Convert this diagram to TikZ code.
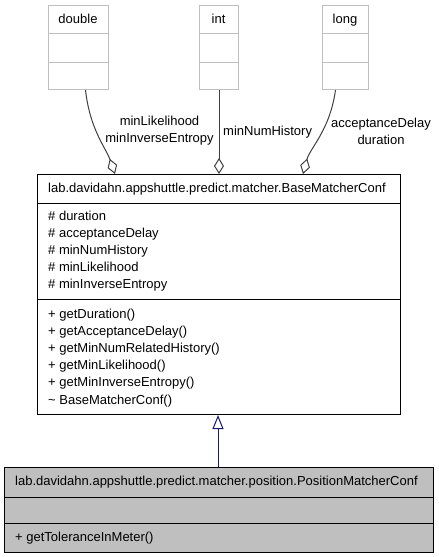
\documentclass[tikz,border=0pt]{standalone}
\usepackage{fontspec}
\setmainfont{Liberation Sans}
\usetikzlibrary{arrows.meta,calc}
\definecolor{boxgray}{RGB}{191,191,191}
\definecolor{edgegray}{RGB}{64,64,64}
\definecolor{navyblue}{RGB}{25,25,112}
\begin{document}
\begin{tikzpicture}[x=1pt,y=-1pt,
  txt/.style={font=\fontsize{13}{17}\selectfont, inner sep=0pt},
  mem/.style={txt, anchor=base west},
  typebox/.style={draw=boxgray, line width=1pt, anchor=north west, minimum width=#1, minimum height=84pt, inner sep=0pt},
  classbox/.style={draw=black, line width=1pt, anchor=north west, inner sep=0pt},
  agg/.style={draw=edgegray, line width=1pt, -{Diamond[open,length=16pt,width=10pt]}},
  inh/.style={draw=navyblue, line width=1pt, -{Triangle[open,length=14pt,width=11pt]}}
]
\useasboundingbox (0,0) rectangle (439,557);

% type boxes
\node[typebox=60pt] (dbl) at (48,5) {};
\node[txt, anchor=base] (dblname) at (78,23) {double};
\draw[boxgray, line width=1pt] (48,33) -- (108,33) (48,62) -- (108,62);

\node[typebox=39pt] (int) at (199,5) {};
\node[txt, anchor=base] (intname) at (218.5,23) {int};
\draw[boxgray, line width=1pt] (199,33) -- (238,33) (199,62) -- (238,62);

\node[typebox=46pt] (lng) at (322,5) {};
\node[txt, anchor=base] (lngname) at (345,23) {long};
\draw[boxgray, line width=1pt] (322,33) -- (368,33) (322,62) -- (368,62);

% base class
\node[classbox, minimum width=363pt, minimum height=240pt] (base) at (37,174) {};
\draw[line width=1pt] (37,203) -- (400,203) (37,299) -- (400,299);
\node[mem] (basetitle) at (48,192) {lab.davidahn.appshuttle.predict.matcher.BaseMatcherConf};
\foreach \t [count=\i from 0] in {duration,acceptanceDelay,minNumHistory,minLikelihood,minInverseEntropy}
  \node[mem] (attr\i) at (48,220+17*\i) {\# \t};
\foreach \t [count=\i from 0] in {+ getDuration(),+ getAcceptanceDelay(),+ getMinNumRelatedHistory(),+ getMinLikelihood(),+ getMinInverseEntropy(),\textasciitilde\ BaseMatcherConf()}
  \node[mem] (meth\i) at (48,318+17.2*\i) {\t};

% derived class
\node[classbox, fill=boxgray, minimum width=429pt, minimum height=85pt] (pos) at (4,467) {};
\draw[line width=1pt] (4,497) -- (433,497) (4,523) -- (433,523);
\node[mem] (postitle) at (15,485) {lab.davidahn.appshuttle.predict.matcher.position.PositionMatcherConf};
\node[mem] (posmeth) at (15,541) {+ getToleranceInMeter()};

% aggregations
\draw[agg] ($(dbl.south)+(7,0)$) .. controls (90,130) and (106,148) .. ($(base.north west)+(78,0)$);
\draw[agg] (int.south) -- (int.south |- base.north);
\draw[agg] ($(lng.south)+(-10,0)$) .. controls (330,130) and (310,148) .. ($(base.north west)+(266,0)$);

\node[txt, align=center] (lblA) at (159.5,131) {minLikelihood\\minInverseEntropy};
\node[mem] (lblB) at (223,135) {minNumHistory};
\node[txt, align=center] (lblC) at (381,131) {acceptanceDelay\\duration};

% inheritance
\draw[inh] (pos.north -| 218,0) -- (base.south -| 218,0);
\end{tikzpicture}
\end{document}
